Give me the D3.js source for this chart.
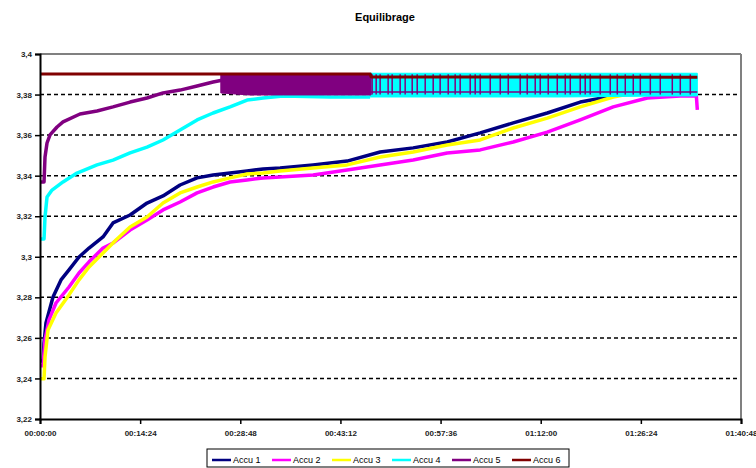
<!DOCTYPE html>
<html>
<head>
<meta charset="utf-8">
<script src="https://d3js.org/d3.v7.min.js"></script>
<style>
  body { margin: 0; background: #fff; }
  text { font-family: "Liberation Sans", Arial, sans-serif; }
</style>
</head>
<body>
<script>
"use strict";

// time in minutes, voltage in volts
const seriesNames = ["Accu 1", "Accu 2", "Accu 3", "Accu 4", "Accu 5", "Accu 6"];
const seriesColors = ["#000080", "#ff00ff", "#ffff00", "#00ffff", "#800080", "#800000"];

const accu1T = [0, 0.43, 0.58, 0.86, 1.87, 3.02, 4.17, 5.61, 7.05, 9.06, 10.5, 12.95, 15.39, 17.69, 20.14, 22.59, 24.89, 27.33, 29.78, 32.08, 34.53, 39.27, 44.16, 48.91, 53.66, 58.55, 63.3, 68.05, 72.94, 77.68, 82.43, 87.76, 94.52];
const accu1V = [3.2486, 3.2486, 3.2575, 3.2674, 3.2802, 3.2886, 3.2935, 3.2999, 3.3043, 3.3098, 3.3167, 3.3206, 3.3265, 3.33, 3.3354, 3.3389, 3.3403, 3.3413, 3.3423, 3.3433, 3.3438, 3.3453, 3.3472, 3.3517, 3.3537, 3.3566, 3.3611, 3.366, 3.3709, 3.3763, 3.3793, 3.3832, 3.3887];

const accu2T = [0, 0.43, 0.72, 1.29, 2.3, 4.17, 5.61, 7.05, 9.06, 10.5, 12.95, 15.39, 17.69, 20.14, 22.59, 24.89, 27.33, 29.78, 32.08, 34.53, 39.27, 44.16, 48.91, 53.66, 58.55, 63.3, 68.05, 72.94, 77.68, 82.43, 87.33, 92.07, 94.38, 94.52];
const accu2V = [3.2462, 3.2462, 3.259, 3.2689, 3.2772, 3.2851, 3.292, 3.2975, 3.3043, 3.3068, 3.3132, 3.3181, 3.3231, 3.327, 3.3315, 3.3344, 3.3369, 3.3379, 3.3389, 3.3394, 3.3403, 3.3428, 3.3453, 3.3477, 3.3512, 3.3527, 3.3566, 3.3615, 3.3675, 3.3739, 3.3783, 3.3793, 3.3793, 3.3724];

const accu3T = [0, 0.58, 0.72, 1.15, 2.3, 4.17, 5.61, 7.05, 9.06, 10.93, 12.95, 15.39, 17.69, 20.14, 22.59, 24.89, 27.33, 29.78, 32.08, 34.53, 39.27, 44.16, 48.91, 53.66, 58.55, 63.3, 68.05, 72.94, 77.68, 82.43, 87.76, 94.52];
const accu3V = [3.2398, 3.2398, 3.2506, 3.2639, 3.2723, 3.2812, 3.2886, 3.295, 3.3019, 3.3083, 3.3147, 3.3196, 3.3265, 3.3315, 3.3344, 3.3369, 3.3389, 3.3408, 3.3413, 3.3423, 3.3438, 3.3453, 3.3492, 3.3517, 3.3551, 3.3576, 3.3635, 3.3684, 3.3739, 3.3788, 3.3823, 3.3877];

const accu4T = [0, 0.58, 0.72, 1.01, 1.73, 3.31, 5.32, 8.2, 10.5, 12.95, 15.39, 17.69, 20.14, 22.59, 24.89, 27.33, 29.78, 32.08, 34.96, 41.72, 47.47];
const accu4V = [3.3088, 3.3088, 3.3196, 3.3295, 3.3329, 3.3369, 3.3413, 3.3453, 3.3477, 3.3512, 3.3541, 3.3576, 3.3625, 3.3675, 3.3709, 3.3739, 3.3773, 3.3783, 3.3793, 3.3788, 3.3788];
// dense oscillation of Accu 4 at the end (min / max envelope)
const accu4BandT = [47.47, 60, 75, 90, 94.52];
const accu4BandLo = [3.3788, 3.3788, 3.3788, 3.3793, 3.3793];
const accu4BandHi = [3.3905, 3.3905, 3.3905, 3.3905, 3.3905];

const accu5T = [0, 0.58, 0.72, 1.01, 1.44, 2.45, 3.31, 5.75, 8.2, 10.5, 12.95, 15.39, 17.69, 20.14, 22.59, 24.89, 26.33];
const accu5V = [3.3369, 3.3369, 3.3492, 3.3561, 3.3601, 3.364, 3.3665, 3.3704, 3.3719, 3.3739, 3.3763, 3.3783, 3.3808, 3.3822, 3.3842, 3.3862, 3.3872];
const accu5BandT = [26.0, 30, 35, 40, 47.6];
const accu5BandLo = [3.3808, 3.3798, 3.3798, 3.3798, 3.3798];
const accu5BandHi = [3.3901, 3.3901, 3.3901, 3.3901, 3.3901];
const accu5TailT = [47.6, 60, 75, 90, 94.52];
const accu5TailV = [3.3812, 3.3813, 3.3813, 3.3813, 3.3813];
const accu5SpikeT = [47.76, 48.34, 48.91, 50.06, 50.64, 51.79, 52.51, 53.52, 54.24, 55.39, 56.54, 57.54, 58.7, 59.7, 60.42, 61.86, 62.58, 63.3, 64.74, 66.18, 67.33, 69.05, 70.06, 71.21, 71.93, 73.08, 74.38, 75.53, 76.25, 77.68, 78.4, 79.12, 80.56, 82.0, 83.01, 84.16, 85.31, 86.32, 87.76, 89.19, 90.92, 92.07, 93.51];
const accu5SpikeLo = 3.3800;
const accu5SpikeHi = 3.3900;

const accu6T = [0, 20, 47.5, 47.6, 70, 94.52];
const accu6V = [3.3901, 3.3901, 3.3901, 3.3887, 3.3887, 3.3885];

const xTickValues = [0, 14.4, 28.8, 43.2, 57.6, 72, 86.4, 100.8];
const xTickLabels = ["00:00:00", "00:14:24", "00:28:48", "00:43:12", "00:57:36", "01:12:00", "01:26:24", "01:40:48"];
const yTickValues = [3.22, 3.24, 3.26, 3.28, 3.3, 3.32, 3.34, 3.36, 3.38, 3.4];
const yTickLabels = ["3,22", "3,24", "3,26", "3,28", "3,3", "3,32", "3,34", "3,36", "3,38", "3,4"];

const width = 756;
const height = 468;
const plotLeft = 40, plotRight = 741, plotTop = 54, plotBottom = 419;

let svg = d3
  .select("body")
  .append("svg")
  .attr("width", width)
  .attr("height", height);

const x = d3.scaleLinear().domain([0, 100.8]).range([plotLeft, plotRight]);
const y = d3.scaleLinear().domain([3.22, 3.4]).range([plotBottom, plotTop]);

svg.append("text")
  .attr("x", 385)
  .attr("y", 21)
  .attr("text-anchor", "middle")
  .attr("font-size", 11)
  .attr("font-weight", "bold")
  .text("Equilibrage");

// grid lines
svg.append("g")
  .selectAll("line")
  .data(yTickValues.slice(1, -1))
  .enter()
  .append("line")
  .attr("x1", plotLeft)
  .attr("x2", plotRight)
  .attr("y1", d => y(d))
  .attr("y2", d => y(d))
  .attr("stroke", "#000")
  .attr("stroke-width", 1.5)
  .attr("stroke-dasharray", "4,3");

// plot border (top and right are grey)
svg.append("line")
  .attr("x1", plotLeft).attr("x2", plotRight)
  .attr("y1", plotTop).attr("y2", plotTop)
  .attr("stroke", "#808080").attr("stroke-width", 2);
svg.append("line")
  .attr("x1", plotRight).attr("x2", plotRight)
  .attr("y1", plotTop).attr("y2", plotBottom)
  .attr("stroke", "#808080").attr("stroke-width", 2);

const line = d3.line().x(d => x(d[0])).y(d => y(d[1]));
const area = d3.area().x(d => x(d[0])).y0(d => y(d[1])).y1(d => y(d[2]));

function zip(t, v) {
  return t.map((d, i) => [d, v[i]]);
}
function zip3(t, lo, hi) {
  return t.map((d, i) => [d, lo[i], hi[i]]);
}

let plot = svg.append("g");

function drawLine(pts, color, w) {
  plot.append("path")
    .attr("d", line(pts))
    .attr("fill", "none")
    .attr("stroke", color)
    .attr("stroke-width", w || 3.5)
    .attr("stroke-linejoin", "round");
}
function drawBand(pts, color) {
  plot.append("path")
    .attr("d", area(pts))
    .attr("fill", color)
    .attr("stroke", color)
    .attr("stroke-width", 1);
}

drawLine(zip(accu1T, accu1V), seriesColors[0]);
drawLine(zip(accu2T, accu2V), seriesColors[1]);
drawLine(zip(accu3T, accu3V), seriesColors[2]);
drawLine(zip(accu4T, accu4V), seriesColors[3]);
drawBand(zip3(accu4BandT, accu4BandLo, accu4BandHi), seriesColors[3]);
drawLine(zip(accu5T, accu5V), seriesColors[4]);
drawBand(zip3(accu5BandT, accu5BandLo, accu5BandHi), seriesColors[4]);
drawLine(zip(accu5TailT, accu5TailV), seriesColors[4], 1.5);
plot.append("g")
  .selectAll("line")
  .data(accu5SpikeT)
  .enter()
  .append("line")
  .attr("x1", d => x(d))
  .attr("x2", d => x(d))
  .attr("y1", y(accu5SpikeLo))
  .attr("y2", y(accu5SpikeHi))
  .attr("stroke", seriesColors[4])
  .attr("stroke-width", 1.5);
drawLine(zip(accu6T, accu6V), seriesColors[5], 3);

// axes
let yAxis = svg.append("g")
  .attr("transform", `translate(${plotLeft},0)`)
  .call(d3.axisLeft(y)
    .tickValues(yTickValues)
    .tickFormat((d, i) => yTickLabels[i])
    .tickSize(5)
    .tickPadding(3));
yAxis.select(".domain").attr("stroke", "#000").attr("stroke-width", 2);
yAxis.selectAll(".tick line").attr("stroke", "#000").attr("stroke-width", 1.5);
yAxis.selectAll("text")
  .attr("font-size", 8)
  .attr("font-weight", "bold")
  .attr("fill", "#222")
  .style("font-family", "Liberation Sans, Arial, sans-serif");

let xAxis = svg.append("g")
  .attr("transform", `translate(0,${plotBottom})`)
  .call(d3.axisBottom(x)
    .tickValues(xTickValues)
    .tickFormat((d, i) => xTickLabels[i])
    .tickSize(5)
    .tickPadding(6));
xAxis.select(".domain").attr("stroke", "#000").attr("stroke-width", 2);
xAxis.selectAll(".tick line").attr("stroke", "#000").attr("stroke-width", 1.5);
xAxis.selectAll("text")
  .attr("font-size", 8)
  .attr("font-weight", "bold")
  .attr("fill", "#222")
  .style("font-family", "Liberation Sans, Arial, sans-serif");

// legend
let legend = svg.append("g").attr("transform", "translate(207,449)");
legend.append("rect")
  .attr("width", 362)
  .attr("height", 18)
  .attr("fill", "#fff")
  .attr("stroke", "#000")
  .attr("stroke-width", 1);

let items = legend.selectAll(".item")
  .data(seriesNames)
  .enter()
  .append("g")
  .attr("class", "item")
  .attr("transform", (d, i) => `translate(${5 + i * 60},0)`);
items.append("line")
  .attr("x1", 0)
  .attr("x2", 19)
  .attr("y1", 11)
  .attr("y2", 11)
  .attr("stroke", (d, i) => seriesColors[i])
  .attr("stroke-width", 2.5);
items.append("text")
  .attr("x", 21)
  .attr("y", 14)
  .attr("font-size", 9)
  .text(d => d);
</script>
</body>
</html>
